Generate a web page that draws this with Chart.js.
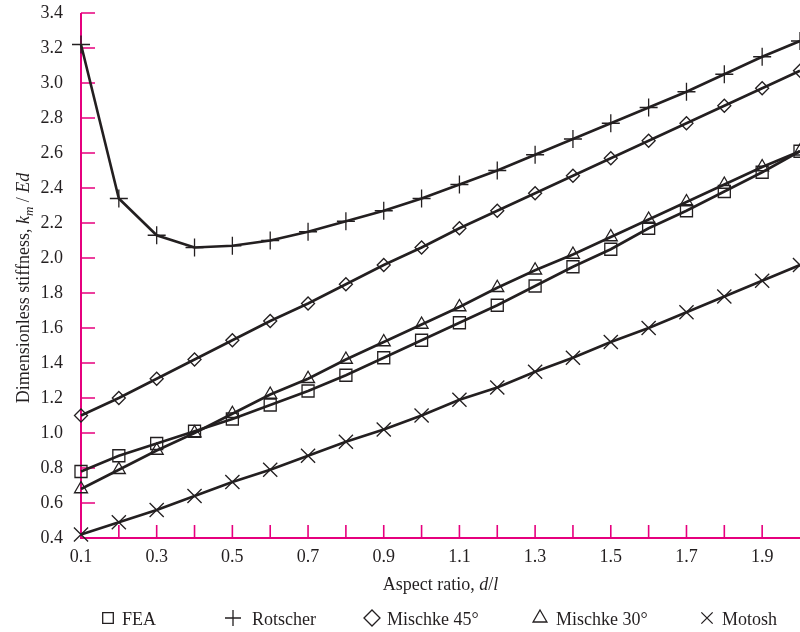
<!DOCTYPE html>
<html>
<head>
<meta charset="utf-8">
<script src="https://cdn.jsdelivr.net/npm/chart.js@4.4.1/dist/chart.umd.min.js"></script>
<style>
  html, body { margin: 0; padding: 0; background: #fff; }
  #wrap { width: 800px; height: 632px; }
</style>
</head>
<body>
<div id="wrap"><canvas id="stiffness"></canvas></div>
<script>
// aspect ratio d/l
const aspectRatio = [0.1, 0.2, 0.3, 0.4, 0.5, 0.6, 0.7, 0.8, 0.9, 1.0, 1.1, 1.2, 1.3, 1.4, 1.5, 1.6, 1.7, 1.8, 1.9, 2.0];

// dimensionless stiffness km/Ed
const fea       = [0.78, 0.87, 0.94, 1.01, 1.08, 1.16, 1.24, 1.33, 1.43, 1.53, 1.63, 1.73, 1.84, 1.95, 2.05, 2.17, 2.27, 2.38, 2.49, 2.61];
const rotscher  = [3.22, 2.34, 2.13, 2.06, 2.07, 2.10, 2.15, 2.21, 2.27, 2.34, 2.42, 2.50, 2.59, 2.68, 2.77, 2.86, 2.95, 3.05, 3.15, 3.24];
const mischke45 = [1.10, 1.20, 1.31, 1.42, 1.53, 1.64, 1.74, 1.85, 1.96, 2.06, 2.17, 2.27, 2.37, 2.47, 2.57, 2.67, 2.77, 2.87, 2.97, 3.07];
const mischke30 = [0.68, 0.79, 0.90, 1.00, 1.11, 1.22, 1.31, 1.42, 1.52, 1.62, 1.72, 1.83, 1.93, 2.02, 2.12, 2.22, 2.32, 2.42, 2.52, 2.61];
const motosh    = [0.42, 0.49, 0.56, 0.64, 0.72, 0.79, 0.87, 0.95, 1.02, 1.10, 1.19, 1.26, 1.35, 1.43, 1.52, 1.60, 1.69, 1.78, 1.87, 1.96];

const seriesNames = ['FEA', 'Rotscher', 'Mischke 45°', 'Mischke 30°', 'Motosh'];

const FONT = '"Liberation Serif", "Times New Roman", serif';
const INK = '#231f20';
const AXIS = '#e6007e';

function pts(ys) {
    return aspectRatio.map((x, i) => ({ x: x, y: ys[i] }));
}

function series(label, ys, style, radius) {
    return {
        label: label,
        data: pts(ys),
        borderColor: INK,
        borderWidth: 2.6,
        backgroundColor: 'rgba(0,0,0,0)',
        pointStyle: style,
        pointRadius: radius,
        pointBorderWidth: 1.3,
        pointBorderColor: INK,
        pointBackgroundColor: 'rgba(0,0,0,0)',
        tension: 0,
        clip: false
    };
}

// legend placement: marker centre, text start
const legendPos = [[108, 122], [233, 252], [372, 387], [540, 556], [707, 722]];

const axesPlugin = {
    id: 'axesPlugin',
    beforeDatasetsDraw(chart) {
        const ctx = chart.ctx;
        const a = chart.chartArea;
        const xs = chart.scales.x, ys = chart.scales.y;
        ctx.save();
        ctx.strokeStyle = AXIS;
        ctx.lineWidth = 2;
        ctx.beginPath();
        ctx.moveTo(a.left, a.top);
        ctx.lineTo(a.left, a.bottom);
        ctx.lineTo(a.right, a.bottom);
        ctx.stroke();
        ctx.lineWidth = 1.6;
        ctx.beginPath();
        ys.ticks.forEach(t => {
            const py = ys.getPixelForValue(t.value);
            ctx.moveTo(a.left, py);
            ctx.lineTo(a.left + 14, py);
        });
        xs.ticks.forEach(t => {
            const px = xs.getPixelForValue(t.value);
            if (px <= a.left + 1 || px >= a.right - 1) return;
            ctx.moveTo(px, a.bottom);
            ctx.lineTo(px, a.bottom - 13);
        });
        ctx.stroke();
        ctx.restore();
    },
    afterDraw(chart) {
        const ctx = chart.ctx;
        const a = chart.chartArea;
        ctx.save();
        ctx.fillStyle = INK;

        // x title
        const xParts = [['Aspect ratio, ', '18px ' + FONT], ['d', 'italic 18px ' + FONT], ['/', '18px ' + FONT], ['l', 'italic 18px ' + FONT]];
        drawParts(ctx, xParts, (a.left + a.right) / 2, 590);

        // y title (rotated)
        ctx.save();
        ctx.translate(23, 288);
        ctx.rotate(-Math.PI / 2);
        const yParts = [['Dimensionless stiffness, ', '18px ' + FONT], ['k', 'italic 18px ' + FONT],
            ['m', 'italic 13px ' + FONT, 4], [' / ', '18px ' + FONT], ['Ed', 'italic 18px ' + FONT]];
        drawParts(ctx, yParts, 0, 6);
        ctx.restore();

        // legend
        chart.data.datasets.forEach((ds, i) => {
            const p = legendPos[i];
            ctx.strokeStyle = INK;
            ctx.fillStyle = 'rgba(0,0,0,0)';
            Chart.helpers.drawPoint(ctx, {
                pointStyle: ds.pointStyle,
                radius: ds.pointStyle === 'rect' ? 7.5 : 8,
                rotation: 0,
                borderWidth: 1.5
            }, p[0], 618);
            ctx.fillStyle = INK;
            ctx.font = '18px ' + FONT;
            ctx.textAlign = 'left';
            ctx.textBaseline = 'alphabetic';
            ctx.fillText(ds.label, p[1], 625);
        });
        ctx.restore();
    }
};

function drawParts(ctx, parts, cx, baseY) {
    let total = 0;
    parts.forEach(p => { ctx.font = p[1]; total += ctx.measureText(p[0]).width; });
    let x = cx - total / 2;
    ctx.textAlign = 'left';
    ctx.textBaseline = 'alphabetic';
    parts.forEach(p => {
        ctx.font = p[1];
        ctx.fillText(p[0], x, baseY + (p[2] || 0));
        x += ctx.measureText(p[0]).width;
    });
}

new Chart(document.getElementById('stiffness').getContext('2d'), {
    type: 'line',
    data: {
        datasets: [
            series(seriesNames[0], fea, 'rect', 8.5),
            series(seriesNames[1], rotscher, 'cross', 9),
            series(seriesNames[2], mischke45, 'rectRot', 6.5),
            series(seriesNames[3], mischke30, 'triangle', 7.5),
            series(seriesNames[4], motosh, 'crossRot', 10)
        ]
    },
    options: {
        responsive: true,
        maintainAspectRatio: false,
        animation: false,
        layout: { autoPadding: false, padding: { top: 13, right: 0, left: 0, bottom: 0 } },
        plugins: {
            legend: { display: false },
            tooltip: { enabled: false }
        },
        scales: {
            x: {
                type: 'linear',
                min: 0.1,
                max: 2.0,
                grid: { display: false, drawTicks: false },
                border: { display: false },
                afterFit(scale) {
                    scale.height = 94;
                    scale.paddingLeft = 0;
                    scale.paddingRight = 0;
                },
                ticks: {
                    stepSize: 0.1,
                    autoSkip: false,
                    maxRotation: 0,
                    padding: 8,
                    color: INK,
                    font: { family: FONT, size: 18 },
                    callback: function (v) {
                        const t = Math.round(v * 10);
                        return (t % 2 === 1 && t < 20) ? (t / 10).toFixed(1) : '';
                    }
                }
            },
            y: {
                min: 0.4,
                max: 3.4,
                grid: { display: false, drawTicks: false },
                border: { display: false },
                afterFit(scale) {
                    scale.width = 81;
                    scale.paddingTop = 0;
                    scale.paddingBottom = 0;
                },
                ticks: {
                    stepSize: 0.2,
                    padding: 18,
                    color: INK,
                    font: { family: FONT, size: 18 },
                    callback: v => v.toFixed(1)
                }
            }
        }
    },
    plugins: [axesPlugin]
});
</script>
</body>
</html>
